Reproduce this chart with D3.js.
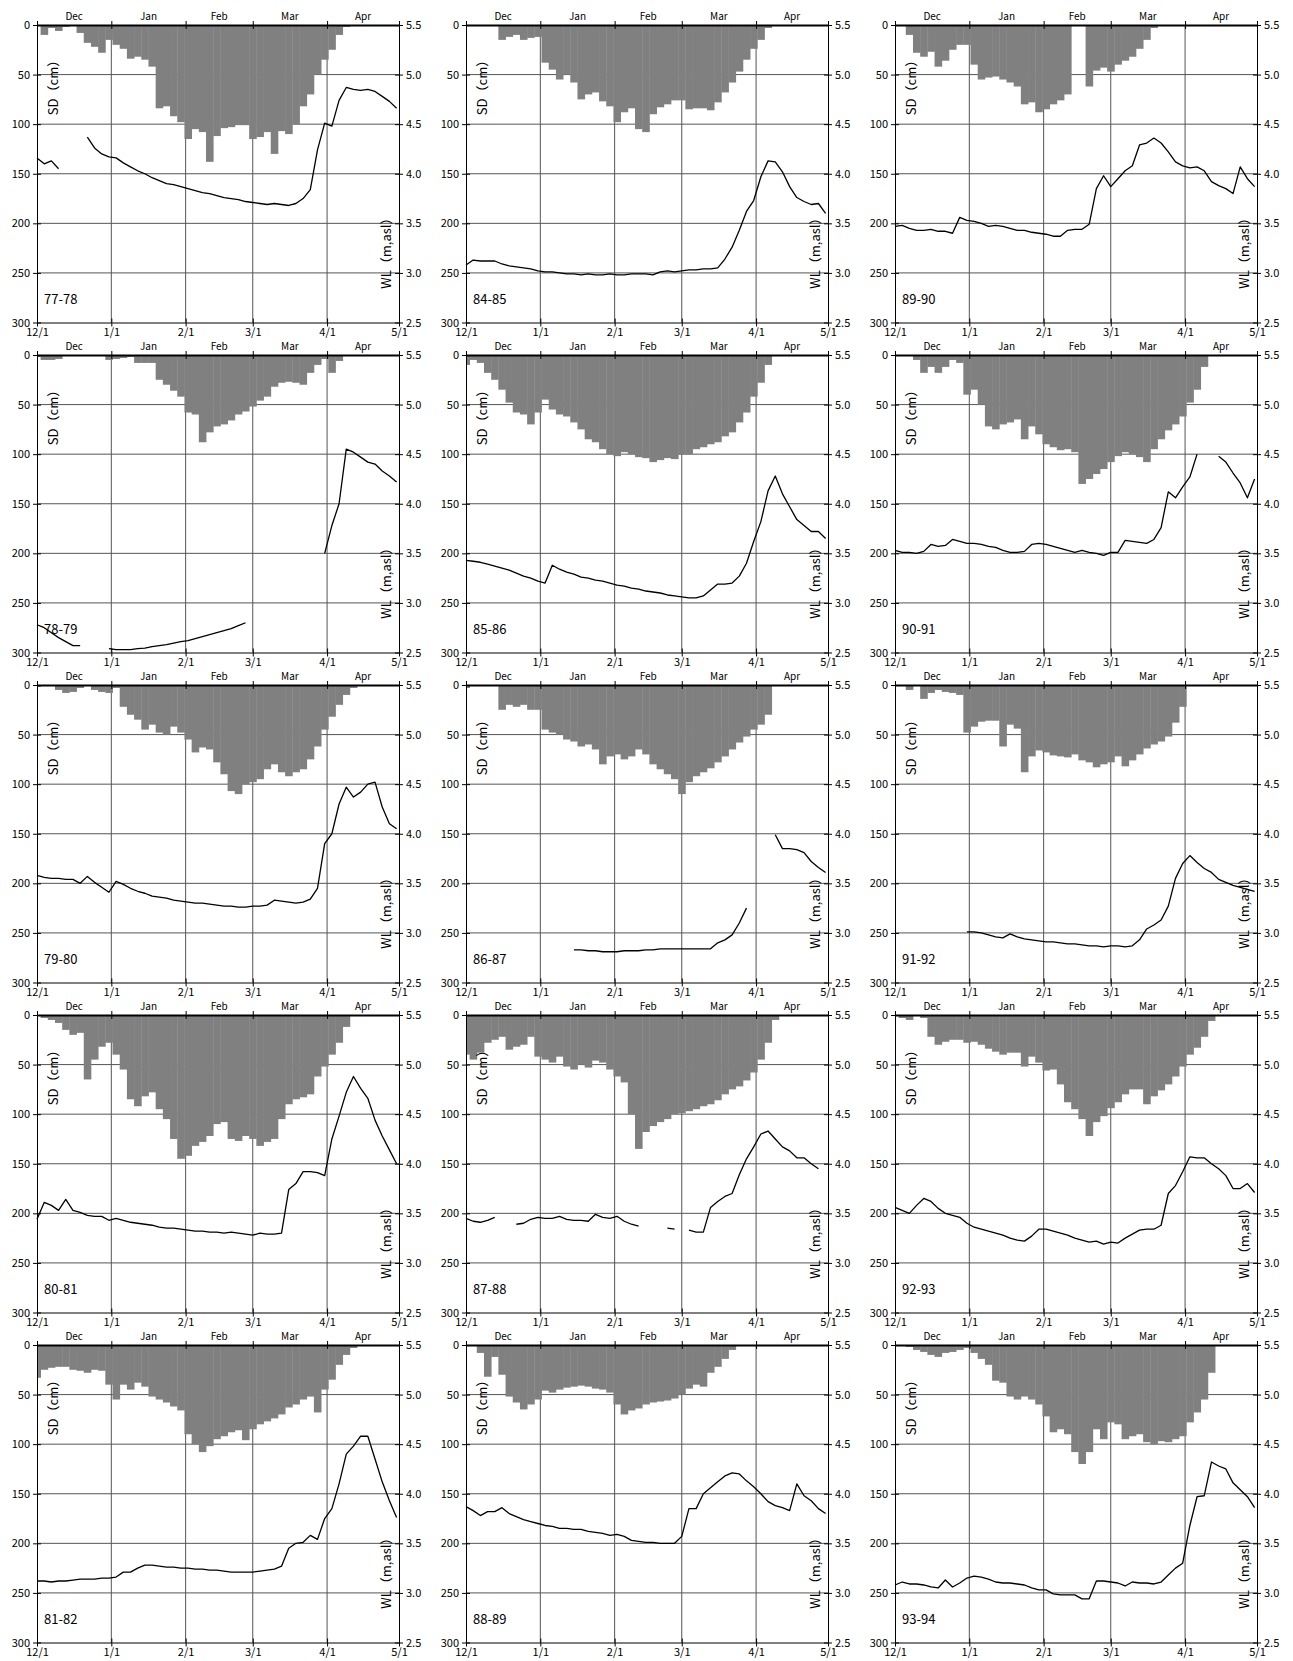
<!DOCTYPE html>
<html><head><meta charset="utf-8">
<script src="https://cdn.jsdelivr.net/npm/d3@7"></script>
<style>body{margin:0;background:#fff;} svg{display:block;}</style>
</head><body>
<svg id="c" width="1293" height="1661"></svg>
<script>
// ---- axis / category data ----
const monthStarts = [0, 31, 62, 90, 121, 151];          // day index of 12/1 ... 5/1
const dateLabels = ["12/1", "1/1", "2/1", "3/1", "4/1", "5/1"];
const monthNames = ["Dec", "Jan", "Feb", "Mar", "Apr"];
const sdTicks = [0, 50, 100, 150, 200, 250, 300];
const wlTicks = [5.5, 5.0, 4.5, 4.0, 3.5, 3.0, 2.5];
const sampleStep = 3; // values below are read every 3 days from 12/1
const seasonLabels = ["77-78","78-79","79-80","80-81","81-82","84-85","85-86","86-87","87-88","88-89","89-90","90-91","91-92","92-93","93-94"];

// ---- snow depth (cm) ----
const sd7778 = [0,10,3,6,2,0,8,18,22,28, 15,20,24,34,32,35,42,84,82,92, 98,115,105,108,138,112,104,103,101,101, 115,113,108,130,107,110,100,82,70,50, 35,25,10,2,0,0,0,0,0,0, 0];
const sd7879 = [2,5,5,4,0,0,1,0,0,0, 5,4,3,2,8,8,8,25,30,36, 42,58,60,88,78,72,70,66,60,57, 52,46,42,32,28,27,28,30,18,10, 4,18,6,0,0,0,0,0,0,0, 0];
const sd7980 = [2,0,0,5,8,7,3,0,5,7, 8,3,22,30,35,45,40,48,50,42, 48,55,68,63,65,78,90,107,110,100, 98,95,85,80,88,92,88,85,75,62, 45,32,20,10,3,0,0,0,0,0, 0];
const sd8081 = [0,3,5,8,15,20,18,65,45,32, 28,40,55,85,92,82,78,95,105,125, 145,142,132,128,122,110,108,125,127,122, 125,132,128,125,105,90,85,83,80,62, 52,40,28,12,0,0,0,0,0,0, 0];
const sd8182 = [33,25,23,22,22,25,26,28,25,26, 40,55,40,45,38,42,52,55,58,62, 66,90,100,108,102,95,92,88,86,96, 85,80,77,74,70,63,60,55,52,68, 45,35,20,10,3,0,0,0,0,0, 0];
const sd8485 = [0,0,1,0,0,15,12,10,15,13, 12,38,45,55,50,58,75,70,68,77, 82,98,88,84,105,108,90,83,80,76, 76,85,84,84,86,78,68,58,47,35, 24,15,3,0,0,0,0,0,0,0, 0];
const sd8586 = [10,5,8,18,25,35,48,58,60,70, 58,45,55,60,62,68,75,85,88,95, 100,102,98,100,103,104,108,106,104,105, 100,100,95,93,90,88,82,78,68,58, 42,28,10,0,0,0,0,0,0,0, 0];
const sd8687 = [3,0,0,0,0,25,20,22,20,25, 25,45,48,50,55,57,62,60,65,80, 72,70,75,72,65,70,80,85,90,95, 110,98,92,88,84,78,72,65,58,52, 45,40,30,0,0,0,0,0,0,0, 0];
const sd8788 = [40,45,38,28,25,22,35,32,30,22, 42,45,48,42,52,55,50,53,46,48, 55,62,68,100,135,118,112,108,105,100, 99,97,95,92,90,86,80,75,72,66, 58,45,28,5,0,0,0,0,0,0, 0];
const sd8889 = [0,0,8,32,12,30,52,58,65,60, 55,46,48,45,43,42,41,42,44,45, 48,60,70,66,64,60,58,57,56,54, 50,44,40,42,28,22,14,5,0,0, 0,0,0,0,0,0,0,0,0,0, 0];
const sd8990 = [0,0,10,28,32,27,42,36,25,20, 20,40,55,53,52,55,58,62,80,78, 88,85,80,76,70,0,0,62,46,43, 47,40,36,32,24,15,3,0,0,0, 0,0,0,0,0,0,0,0,0,0, 0];
const sd9091 = [0,0,0,5,18,12,18,12,5,8, 40,35,50,72,75,70,68,65,85,72, 80,90,93,96,95,98,130,125,120,115, 108,102,98,100,103,108,95,85,76,70, 62,48,35,12,0,0,0,0,0,0, 0];
const sd9192 = [0,0,5,0,14,8,5,7,8,10, 48,42,37,36,36,62,40,44,88,72, 66,68,71,72,73,70,76,78,83,80, 78,72,82,76,70,64,60,57,52,38, 22,0,0,0,0,0,0,0,0,0, 0];
const sd9293 = [0,3,5,0,3,22,30,27,25,25, 28,27,30,34,37,40,38,38,52,42, 48,56,55,70,88,95,105,122,108,102, 94,88,80,75,75,90,82,76,70,62, 52,40,33,22,6,0,0,0,0,0, 0];
const sd9394 = [0,0,2,5,7,10,12,8,7,5, 3,8,14,20,36,38,52,55,52,55, 60,72,88,85,90,108,120,108,85,95, 78,80,95,92,90,98,100,97,98,95, 92,78,68,55,28,0,0,0,0,0, 0];

// ---- water level (m, asl); null = no record ----
const wl7778 = [4.16,4.10,4.13,4.05,null,null,null,4.37,4.26,4.20, 4.17,4.16,4.11,4.07,4.03,4.00,3.96,3.93,3.90,3.89, 3.87,3.85,3.83,3.81,3.80,3.78,3.76,3.75,3.74,3.72, 3.71,3.70,3.69,3.70,3.69,3.68,3.70,3.75,3.84,4.24, 4.51,4.48,4.74,4.87,4.85,4.84,4.85,4.83,4.78,4.73, 4.66];
const wl7879 = [2.78,2.75,2.70,2.65,2.61,2.57,2.57,null,null,null, 2.54,2.53,2.53,2.53,2.54,2.545,2.56,2.57,2.58,2.595, 2.61,2.62,2.64,2.66,2.68,2.70,2.72,2.74,2.77,2.80, null,null,null,null,null,null,null,null,null,null, 3.50,3.78,4.00,4.55,4.52,4.47,4.42,4.40,4.33,4.28, 4.22];
const wl7980 = [3.58,3.56,3.55,3.55,3.54,3.54,3.50,3.57,3.51,3.46, 3.41,3.52,3.49,3.45,3.42,3.40,3.37,3.36,3.35,3.33, 3.32,3.31,3.30,3.30,3.29,3.28,3.27,3.27,3.26,3.26, 3.27,3.27,3.28,3.33,3.32,3.31,3.30,3.31,3.34,3.45, 3.90,4.00,4.30,4.47,4.37,4.42,4.50,4.52,4.27,4.10, 4.05];
const wl8081 = [3.44,3.61,3.58,3.53,3.64,3.53,3.51,3.48,3.47,3.47, 3.43,3.45,3.43,3.41,3.40,3.39,3.38,3.36,3.35,3.35, 3.34,3.33,3.32,3.32,3.31,3.31,3.30,3.31,3.30,3.29, 3.28,3.30,3.29,3.29,3.30,3.74,3.80,3.92,3.92,3.91, 3.88,4.25,4.48,4.72,4.88,4.76,4.66,4.44,4.28,4.14, 4.00];
const wl8182 = [3.12,3.12,3.11,3.12,3.12,3.13,3.14,3.14,3.14,3.15, 3.15,3.16,3.21,3.21,3.25,3.28,3.28,3.27,3.26,3.26, 3.25,3.25,3.24,3.24,3.23,3.23,3.22,3.21,3.21,3.21, 3.21,3.22,3.23,3.24,3.27,3.45,3.50,3.51,3.58,3.54, 3.75,3.85,4.10,4.40,4.48,4.58,4.58,4.35,4.12,3.93, 3.76];
const wl8485 = [3.08,3.13,3.12,3.12,3.12,3.09,3.07,3.06,3.05,3.04, 3.02,3.01,3.01,3.00,2.99,2.99,2.98,2.99,2.98,2.98, 2.99,2.98,2.98,2.99,2.99,2.99,2.98,3.01,3.02,3.01, 3.02,3.03,3.03,3.04,3.04,3.05,3.14,3.26,3.43,3.62, 3.73,3.97,4.13,4.12,4.02,3.87,3.76,3.72,3.69,3.70, 3.60];
const wl8586 = [3.43,3.42,3.41,3.39,3.37,3.35,3.33,3.30,3.27,3.25, 3.22,3.20,3.38,3.34,3.31,3.29,3.26,3.25,3.23,3.22, 3.20,3.18,3.17,3.15,3.14,3.12,3.11,3.10,3.08,3.07, 3.06,3.05,3.05,3.07,3.13,3.19,3.19,3.20,3.27,3.40, 3.62,3.82,4.13,4.28,4.10,3.97,3.84,3.78,3.72,3.72, 3.65];
const wl8687 = [null,null,null,null,null,null,null,null,null,null, null,null,null,null,null,2.83,2.83,2.82,2.82,2.81, 2.81,2.81,2.82,2.82,2.82,2.83,2.83,2.84,2.84,2.84, 2.84,2.84,2.84,2.84,2.84,2.90,2.93,2.98,3.10,3.25, null,null,null,3.99,3.85,3.85,3.84,3.81,3.72,3.66, 3.61];
const wl8788 = [3.45,3.42,3.41,3.43,3.46,null,null,3.39,3.40,3.44, 3.46,3.45,3.45,3.47,3.44,3.43,3.43,3.42,3.49,3.46, 3.45,3.47,3.42,3.39,3.37,null,null,null,3.35,3.34, null,3.33,3.31,3.31,3.56,3.62,3.67,3.70,3.89,4.05, 4.17,4.30,4.33,4.25,4.17,4.13,4.06,4.06,4.00,3.95, null];
const wl8889 = [3.87,3.83,3.78,3.82,3.82,3.86,3.80,3.77,3.74,3.72, 3.70,3.68,3.67,3.65,3.65,3.64,3.64,3.62,3.61,3.60, 3.58,3.59,3.57,3.53,3.52,3.51,3.51,3.50,3.50,3.50, 3.57,3.85,3.85,4.00,4.06,4.12,4.18,4.21,4.20,4.13, 4.07,4.00,3.92,3.88,3.86,3.83,4.10,3.98,3.93,3.85, 3.80];
const wl8990 = [3.47,3.48,3.45,3.43,3.43,3.44,3.42,3.42,3.40,3.56, 3.53,3.52,3.50,3.47,3.48,3.47,3.45,3.43,3.43,3.41, 3.40,3.39,3.37,3.37,3.43,3.44,3.44,3.49,3.85,3.98, 3.87,3.95,4.03,4.08,4.29,4.31,4.36,4.31,4.22,4.12, 4.08,4.06,4.07,4.03,3.92,3.88,3.85,3.80,4.07,3.95, 3.87];
const wl9091 = [3.53,3.51,3.51,3.50,3.52,3.59,3.57,3.58,3.64,3.62, 3.60,3.60,3.59,3.57,3.56,3.53,3.51,3.51,3.52,3.59, 3.60,3.59,3.57,3.55,3.53,3.51,3.53,3.51,3.50,3.48, 3.51,3.51,3.63,3.62,3.61,3.60,3.64,3.76,4.12,4.06, 4.17,4.27,4.50,null,null,4.48,4.42,4.31,4.21,4.06, 4.25];
const wl9192 = [null,null,null,null,null,null,null,null,null,null, 3.01,3.01,3.00,2.98,2.96,2.95,2.99,2.96,2.94,2.93, 2.92,2.91,2.91,2.90,2.89,2.89,2.88,2.87,2.87,2.86, 2.87,2.87,2.86,2.87,2.93,3.04,3.08,3.13,3.27,3.55, 3.70,3.78,3.71,3.65,3.61,3.54,3.51,3.48,3.46,3.44, 3.42];
const wl9293 = [3.56,3.53,3.50,3.58,3.65,3.62,3.55,3.50,3.48,3.46, 3.40,3.36,3.34,3.32,3.30,3.28,3.25,3.23,3.22,3.27, 3.34,3.34,3.32,3.30,3.28,3.25,3.23,3.21,3.22,3.19, 3.21,3.20,3.25,3.29,3.33,3.34,3.34,3.38,3.70,3.78, 3.92,4.07,4.06,4.06,4.00,3.95,3.88,3.75,3.75,3.80, 3.71];
const wl9394 = [3.08,3.11,3.09,3.09,3.08,3.06,3.05,3.13,3.06,3.10, 3.15,3.17,3.16,3.14,3.11,3.10,3.10,3.09,3.08,3.05, 3.03,3.03,2.99,2.98,2.98,2.98,2.94,2.94,3.12,3.12, 3.11,3.10,3.07,3.11,3.10,3.10,3.09,3.11,3.18,3.25, 3.30,3.68,3.97,3.98,4.32,4.28,4.25,4.11,4.04,3.97, 3.86];

const sdSeries = [sd7778, sd7879, sd7980, sd8081, sd8182, sd8485, sd8586, sd8687, sd8788, sd8889, sd8990, sd9091, sd9192, sd9293, sd9394];
const wlSeries = [wl7778, wl7879, wl7980, wl8081, wl8182, wl8485, wl8586, wl8687, wl8788, wl8889, wl8990, wl9091, wl9192, wl9293, wl9394];

// ---- layout ----
const colX = [37, 466, 895];
const rowY = [25, 355, 685, 1015, 1345];
const W = 362, H = 297.5;
const FONT = "'Noto Sans CJK JP', 'Noto Sans', sans-serif";
const svg = d3.select("#c");

const x = d3.scaleLinear().domain([0, 151]).range([0, W]);
const ySD = d3.scaleLinear().domain([0, 300]).range([0, H]);
const yWL = d3.scaleLinear().domain([5.5, 2.5]).range([0, H]);

seasonLabels.forEach((label, i) => {
  const col = Math.floor(i / 5), row = i % 5;
  const g = svg.append("g").attr("transform", `translate(${colX[col]},${rowY[row]})`);
  const sd = sdSeries[i].map((v, k) => ({ d: k * sampleStep, v }));
  const wl = wlSeries[i].map((v, k) => ({ d: k * sampleStep, v }));

  // grid
  g.append("g").selectAll("line").data(sdTicks.slice(1, -1)).join("line")
    .attr("x1", 0).attr("x2", W).attr("y1", d => ySD(d)).attr("y2", d => ySD(d))
    .attr("stroke", "#555").attr("stroke-width", 1);
  g.append("g").selectAll("line").data(monthStarts.slice(1, -1)).join("line")
    .attr("y1", 0).attr("y2", H).attr("x1", d => x(d)).attr("x2", d => x(d))
    .attr("stroke", "#555").attr("stroke-width", 1);

  // snow depth bars (hanging from top)
  g.append("g").selectAll("rect").data(sd.filter(d => d.v > 0)).join("rect")
    .attr("x", d => x(Math.max(0, d.d - sampleStep / 2)))
    .attr("width", d => x(Math.min(151, d.d + sampleStep / 2)) - x(Math.max(0, d.d - sampleStep / 2)) + 0.4)
    .attr("y", 0).attr("height", d => ySD(d.v))
    .attr("fill", "#808080");

  // water level line
  const line = d3.line().defined(d => d.v != null).x(d => x(d.d)).y(d => yWL(d.v));
  g.append("path").datum(wl).attr("d", line)
    .attr("fill", "none").attr("stroke", "#000").attr("stroke-width", 1.3).attr("stroke-linejoin", "round");

  // axes
  const left = g.append("g").call(d3.axisLeft(ySD).tickValues(sdTicks).tickSize(4).tickSizeOuter(0).tickPadding(3));
  left.selectAll(".tick line").attr("x1", 4);
  const right = g.append("g").attr("transform", `translate(${W},0)`)
    .call(d3.axisRight(yWL).tickValues(wlTicks).tickSize(4).tickSizeOuter(0).tickPadding(3).tickFormat(d3.format(".1f")));
  right.selectAll(".tick line").attr("x1", -4);
  const bottom = g.append("g").attr("transform", `translate(0,${H})`)
    .call(d3.axisBottom(x).tickValues(monthStarts).tickSize(4).tickSizeOuter(0).tickPadding(2).tickFormat((d, k) => dateLabels[k]));
  bottom.selectAll(".tick line").attr("y1", -4);
  const top = g.append("g")
    .call(d3.axisTop(x).tickValues(monthStarts).tickSize(4).tickSizeOuter(0).tickFormat(""));
  top.selectAll(".tick line").attr("y1", 4);
  top.select(".domain").attr("stroke-width", 2);

  [left, right, bottom, top].forEach(a => {
    a.attr("font-family", FONT).attr("font-size", 11);
    a.selectAll("text").attr("fill", "#000");
    a.selectAll("line,path").attr("stroke", "#000");
  });

  // month names
  g.append("g").selectAll("text").data(monthNames).join("text")
    .attr("x", (d, k) => x((monthStarts[k] + monthStarts[k + 1]) / 2))
    .attr("y", -5).attr("text-anchor", "middle")
    .attr("font-family", FONT).attr("font-size", 10).text(d => d);

  // axis titles inside
  g.append("text").attr("transform", `translate(21,${ySD(60)}) rotate(-90)`)
    .attr("text-anchor", "middle").attr("font-family", FONT).attr("font-size", 13)
    .text("SD（cm）");
  g.append("text").attr("transform", `translate(${W - 8},${ySD(227)}) rotate(-90)`)
    .attr("text-anchor", "middle").attr("font-family", FONT).attr("font-size", 13)
    .text("WL（m,asl）");

  // season label
  g.append("text").attr("x", 7).attr("y", ySD(281))
    .attr("font-family", FONT).attr("font-size", 13).text(label);
});
</script>
</body></html>
